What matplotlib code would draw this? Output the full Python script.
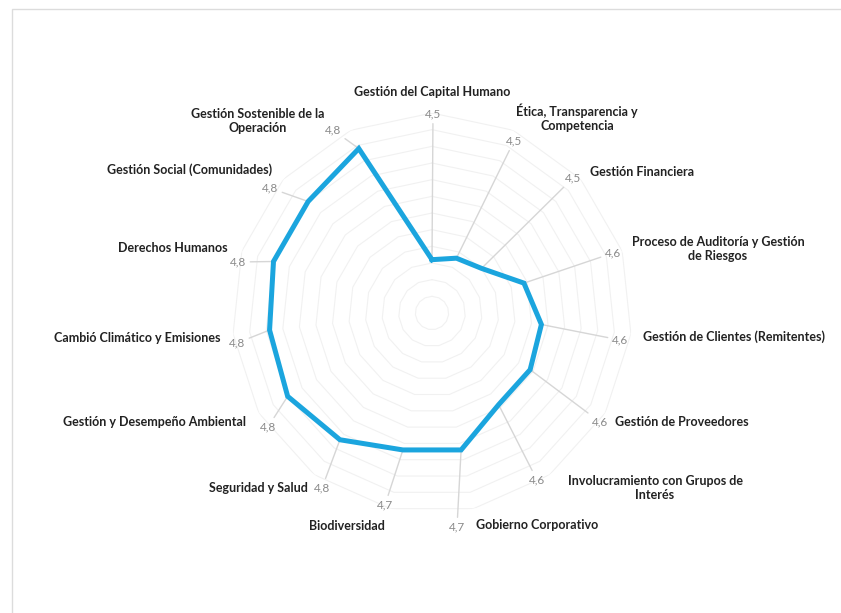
import numpy as np
import matplotlib
matplotlib.use("Agg")
import matplotlib.pyplot as plt
from matplotlib.patches import Rectangle

# ---- data -------------------------------------------------------------
categories = [
    "Gestión del Capital Humano",
    "Ética, Transparencia y\nCompetencia",
    "Gestión Financiera",
    "Proceso de Auditoría y Gestión\nde Riesgos",
    "Gestión de Clientes (Remitentes)",
    "Gestión de Proveedores",
    "Involucramiento con Grupos de\nInterés",
    "Gobierno Corporativo",
    "Biodiversidad",
    "Seguridad y Salud",
    "Gestión y Desempeño Ambiental",
    "Cambió Climático y Emisiones",
    "Derechos Humanos",
    "Gestión Social (Comunidades)",
    "Gestión Sostenible de la\nOperación",
]
scores = [4.46, 4.48, 4.50, 4.59, 4.63, 4.64, 4.64, 4.72, 4.72,
          4.77, 4.80, 4.79, 4.80, 4.80, 4.84]

# radial axis
r_min, r_max, r_step = 4.30, 4.90, 0.05

# ---- label placement (figure pixels, origin top-left) -----------------
W, H = 841, 613
cat_pos = [(432, 92), (577, 118), (590, 172), (718, 249), (643, 337),
           (615, 422), (655, 488), (476, 525), (347, 526), (308, 488),
           (246, 422), (220, 338), (228, 248), (272, 170), (258, 121)]
cat_ha = ["center", "center", "left", "center", "left", "left", "center",
          "left", "center", "right", "right", "right", "right", "right",
          "center"]
val_pos = [(433, 114), (514, 141), (573, 178), (613, 253), (620, 340),
           (600, 422), (537, 480), (457, 527), (385, 505), (322, 488),
           (268, 427), (237, 343), (238, 262), (270, 188), (333, 130)]

LINE_BLUE = "#1ba5de"
GRID = "#f1f1f1"
LEADER = "#d6d6d6"
TXT = "#222222"
VAL_TXT = "#8a8a8a"

plt.rcParams["font.family"] = ["Lato", "DejaVu Sans"]

fig = plt.figure(figsize=(W / 100, H / 100), dpi=100)
fig.patch.set_facecolor("white")

# chart-area frame (top and left edges visible)
fig.patches.append(Rectangle((12 / W, -0.1), 1.2, (H - 9) / H + 0.1,
                             transform=fig.transFigure, fill=False,
                             edgecolor="#dcdcdc", lw=1.0))

cx, cy, R = 432, 313, 200
ax = fig.add_axes([(cx - R) / W, (H - cy - R) / H, 2 * R / W, 2 * R / H],
                  projection="polar")
ax.set_theta_offset(np.pi / 2)
ax.set_theta_direction(-1)
ax.set_ylim(r_min, r_max)
ax.set_xticks([])
ax.set_yticks([])
ax.grid(False)
ax.spines["polar"].set_visible(False)
ax.patch.set_alpha(0)

n = len(categories)
theta = np.arange(n) * 2 * np.pi / n
theta_c = np.append(theta, theta[0])

# polygonal gridlines
for lvl in np.arange(r_min + r_step, r_max + 1e-9, r_step):
    ax.plot(theta_c, [lvl] * (n + 1), color=GRID, lw=0.8, zorder=1)

# data series
vals_c = np.append(scores, scores[0])
ax.plot(theta_c, vals_c, color=LINE_BLUE, lw=3.6, zorder=4,
        solid_joinstyle="miter")

# value labels with leader lines
for t, v, (px, py) in zip(theta, scores, val_pos):
    ax.annotate(f"{v:.1f}".replace(".", ","), xy=(t, v), xycoords="data",
                xytext=(px, H - py), textcoords="figure pixels",
                ha="center", va="center", fontsize=8.5, color=VAL_TXT,
                annotation_clip=False, zorder=2,
                arrowprops=dict(arrowstyle="-", color=LEADER, lw=1.0,
                                shrinkA=1, shrinkB=0))

# category labels
for name, (px, py), ha in zip(categories, cat_pos, cat_ha):
    fig.text(px / W, (H - py) / H, name, ha=ha, va="center",
             multialignment="center", fontsize=9, fontweight="bold",
             color=TXT, linespacing=1.25)

fig.savefig("out.png", dpi=100, facecolor="white")
